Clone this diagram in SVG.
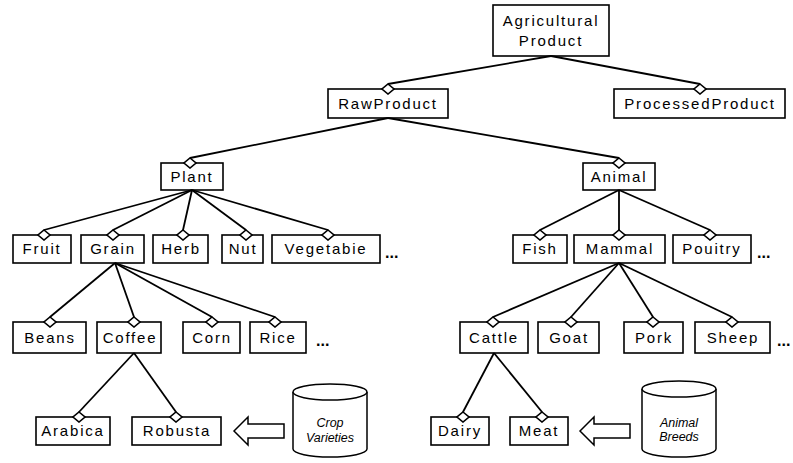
<svg xmlns="http://www.w3.org/2000/svg" width="793" height="463" viewBox="0 0 793 463">
<defs>
<style>
.box{fill:#fff;stroke:#000;stroke-width:1.6}
.lbl{font-family:"Liberation Sans",Arial,sans-serif;font-size:15px;letter-spacing:1.8px;text-anchor:middle;fill:#000}
.ital{font-family:"Liberation Sans",Arial,sans-serif;font-size:12.5px;font-style:italic;text-anchor:middle;fill:#000}
.dots{font-family:"Liberation Sans",Arial,sans-serif;font-size:16px;font-weight:bold;fill:#000}
.con{stroke:#000;stroke-width:1.8;fill:none;marker-end:url(#dia)}
.hollow{fill:#fff;stroke:#000;stroke-width:1.5;stroke-linejoin:miter}
</style>
<marker id="dia" viewBox="-1 -1 14 12" refX="6" refY="0" markerWidth="14" markerHeight="12" markerUnits="userSpaceOnUse" orient="0">
<path d="M6,0 L12,5 L6,10 L0,5 Z" fill="#fff" stroke="#000" stroke-width="1.6"/>
</marker>
</defs>
<rect width="793" height="463" fill="#fff"/>

<g id="n-agri"><rect class="box" x="493" y="5" width="116" height="51"/><text class="lbl" x="551" y="26">Agricultural</text><text class="lbl" x="551" y="46">Product</text></g>
<g id="n-raw"><rect class="box" x="328" y="89" width="120" height="29"/><text class="lbl" x="388" y="109">RawProduct</text></g>
<g id="n-processed"><rect class="box" x="614" y="89" width="171" height="29"/><text class="lbl" x="700" y="109">ProcessedProduct</text></g>
<g id="n-plant"><rect class="box" x="161" y="163" width="62" height="27"/><text class="lbl" x="192" y="182">Plant</text></g>
<g id="n-animal"><rect class="box" x="583" y="163" width="72" height="27"/><text class="lbl" x="619" y="182">Animal</text></g>

<g id="n-fruit"><rect class="box" x="13" y="235" width="58" height="28"/><text class="lbl" x="42" y="254">Fruit</text></g>
<g id="n-grain"><rect class="box" x="81" y="235" width="63" height="28"/><text class="lbl" x="113" y="254">Grain</text></g>
<g id="n-herb"><rect class="box" x="153" y="235" width="55" height="28"/><text class="lbl" x="181" y="254">Herb</text></g>
<g id="n-nut"><rect class="box" x="222" y="235" width="41" height="28"/><text class="lbl" x="243" y="254">Nut</text></g>
<g id="n-vegetable"><rect class="box" x="272" y="235" width="108" height="28"/><text class="lbl" x="326" y="254">Vegetabie</text></g>
<text class="dots" x="385" y="258">...</text>
<g id="n-fish"><rect class="box" x="513" y="235" width="54" height="28"/><text class="lbl" x="540" y="254">Fish</text></g>
<g id="n-mammal"><rect class="box" x="574" y="235" width="91" height="28"/><text class="lbl" x="620" y="254">Mammal</text></g>
<g id="n-poultry"><rect class="box" x="673" y="235" width="78" height="28"/><text class="lbl" x="712" y="254">Pouitry</text></g>
<text class="dots" x="757" y="258">...</text>

<g id="n-beans"><rect class="box" x="13" y="322" width="73" height="31"/><text class="lbl" x="50" y="343">Beans</text></g>
<g id="n-coffee"><rect class="box" x="97" y="322" width="64" height="31"/><text class="lbl" x="130" y="343">Coffee</text></g>
<g id="n-corn"><rect class="box" x="183" y="322" width="57" height="31"/><text class="lbl" x="212" y="343">Corn</text></g>
<g id="n-rice"><rect class="box" x="250" y="322" width="56" height="31"/><text class="lbl" x="278" y="343">Rice</text></g>
<text class="dots" x="316" y="346">...</text>
<g id="n-cattle"><rect class="box" x="460" y="322" width="68" height="31"/><text class="lbl" x="494" y="343">Cattle</text></g>
<g id="n-goat"><rect class="box" x="538" y="322" width="61" height="31"/><text class="lbl" x="569" y="343">Goat</text></g>
<g id="n-pork"><rect class="box" x="624" y="322" width="59" height="31"/><text class="lbl" x="654" y="343">Pork</text></g>
<g id="n-sheep"><rect class="box" x="695" y="322" width="75" height="31"/><text class="lbl" x="733" y="343">Sheep</text></g>
<text class="dots" x="777" y="346">...</text>

<g id="n-arabica"><rect class="box" x="36" y="417" width="74" height="28"/><text class="lbl" x="73" y="436">Arabica</text></g>
<g id="n-robusta"><rect class="box" x="132" y="417" width="89" height="28"/><text class="lbl" x="177" y="436">Robusta</text></g>
<g id="n-dairy"><rect class="box" x="431" y="417" width="58" height="28"/><text class="lbl" x="460" y="436">Dairy</text></g>
<g id="n-meat"><rect class="box" x="510" y="417" width="58" height="28"/><text class="lbl" x="539" y="436">Meat</text></g>

<g id="n-crop-db">
<path class="hollow" d="M293,392 A37,8 0 0 1 367,392 L367,449 A37,8 0 0 1 293,449 Z"/>
<path class="hollow" fill="none" d="M293,392 A37,8 0 0 0 367,392"/>
<text class="ital" x="330" y="427">Crop</text><text class="ital" x="330" y="442">Varieties</text>
</g>
<g id="n-breeds-db">
<path class="hollow" d="M642,389 A37,8 0 0 1 716,389 L716,449 A37,8 0 0 1 642,449 Z"/>
<path class="hollow" fill="none" d="M642,389 A37,8 0 0 0 716,389"/>
<text class="ital" x="679" y="427">Animal</text><text class="ital" x="679" y="441">Breeds</text>
</g>

<g id="arrows">
<polygon class="hollow" points="234,431 248,417 248,424 284,424 284,438 248,438 248,445"/>
<polygon class="hollow" points="580,431 594,417 594,424 630,424 630,438 594,438 594,445"/>
</g>

<g id="connectors">
<line class="con" x1="551" y1="56" x2="388" y2="84"/>
<line class="con" x1="551" y1="56" x2="700" y2="84"/>
<line class="con" x1="388" y1="118" x2="190" y2="158"/>
<line class="con" x1="388" y1="118" x2="619" y2="158"/>
<line class="con" x1="192" y1="190" x2="44" y2="230"/>
<line class="con" x1="192" y1="190" x2="113" y2="230"/>
<line class="con" x1="192" y1="190" x2="183" y2="230"/>
<line class="con" x1="192" y1="190" x2="246" y2="230"/>
<line class="con" x1="192" y1="190" x2="328" y2="230"/>
<line class="con" x1="619" y1="190" x2="540" y2="230"/>
<line class="con" x1="619" y1="190" x2="619" y2="230"/>
<line class="con" x1="619" y1="190" x2="710" y2="230"/>
<line class="con" x1="115" y1="263" x2="50" y2="317"/>
<line class="con" x1="115" y1="263" x2="134" y2="317"/>
<line class="con" x1="115" y1="263" x2="212" y2="317"/>
<line class="con" x1="115" y1="263" x2="275" y2="317"/>
<line class="con" x1="619" y1="263" x2="493" y2="317"/>
<line class="con" x1="619" y1="263" x2="571" y2="317"/>
<line class="con" x1="619" y1="263" x2="653" y2="317"/>
<line class="con" x1="619" y1="263" x2="732" y2="317"/>
<line class="con" x1="134" y1="353" x2="79" y2="412"/>
<line class="con" x1="134" y1="353" x2="176" y2="412"/>
<line class="con" x1="494" y1="353" x2="463" y2="412"/>
<line class="con" x1="494" y1="353" x2="542" y2="412"/>
</g>
</svg>
